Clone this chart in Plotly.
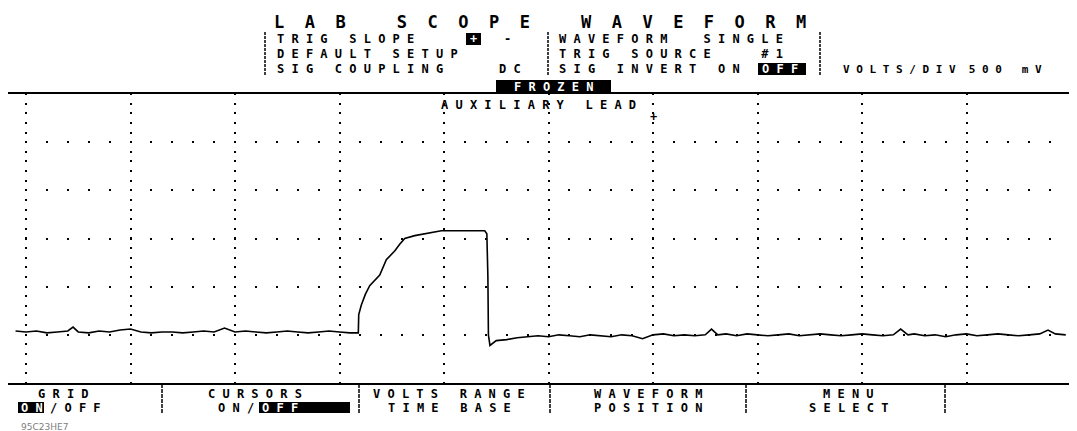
import plotly.graph_objects as go

W, H = 1077, 431
PLOT_TOP, PLOT_BOTTOM = 86, 375   # pixel rows of the screen frame

# ---- waveform data (time in divisions, volts; 500 mV/div) ----
pre_t = [-0.10, 0.00, 0.10, 0.20, 0.30, 0.40, 0.45, 0.50, 0.60, 0.70, 0.80, 0.90,
         1.00, 1.10, 1.20, 1.30, 1.40, 1.50, 1.60, 1.70, 1.80, 1.90, 2.00, 2.10,
         2.20, 2.30, 2.40, 2.50, 2.60, 2.70, 2.80, 2.90, 3.00, 3.10, 3.18]
pre_v = [0.04, 0.03, 0.04, 0.02, 0.03, 0.04, 0.08, 0.03, 0.02, 0.04, 0.03, 0.05,
         0.06, 0.03, 0.02, 0.03, 0.03, 0.02, 0.03, 0.04, 0.03, 0.07, 0.03, 0.04,
         0.03, 0.02, 0.03, 0.04, 0.03, 0.02, 0.03, 0.04, 0.03, 0.02, 0.02]

pulse_t = [3.184, 3.209, 3.247, 3.289, 3.337, 3.385, 3.448, 3.528, 3.576, 3.624,
           3.72, 3.815, 3.974, 4.15, 4.39, 4.41, 4.42, 4.425, 4.44]
pulse_v = [0.21, 0.31, 0.42, 0.51, 0.57, 0.62, 0.78, 0.87, 0.94, 1.00,
           1.03, 1.05, 1.08, 1.08, 1.08, 1.05, 0.60, 0.00, -0.11]

post_t = [4.50, 4.60, 4.70, 4.80, 4.90, 5.00, 5.10, 5.20, 5.30, 5.40, 5.50, 5.60,
          5.70, 5.80, 5.90, 6.00, 6.10, 6.20, 6.30, 6.40, 6.50, 6.56, 6.62, 6.70,
          6.80, 6.90, 7.00, 7.10, 7.20, 7.30, 7.40, 7.50, 7.60, 7.70, 7.80, 7.90,
          8.00, 8.10, 8.20, 8.30, 8.37, 8.44, 8.50, 8.60, 8.70, 8.80, 8.90, 9.00,
          9.10, 9.20, 9.30, 9.40, 9.50, 9.60, 9.70, 9.78, 9.85, 9.95]
post_v = [-0.06, -0.05, -0.03, -0.02, -0.01, -0.02, 0.00, -0.01, -0.02, 0.00, -0.01, -0.02,
          0.00, -0.01, -0.04, 0.00, 0.01, -0.01, 0.00, -0.01, 0.00, 0.06, 0.00, 0.01,
          -0.01, 0.01, 0.00, -0.01, 0.00, 0.01, -0.01, 0.00, 0.01, 0.00, -0.01, 0.00,
          0.01, 0.00, -0.01, 0.00, 0.06, 0.00, 0.01, -0.01, 0.00, -0.02, 0.00, 0.01,
          -0.01, 0.00, 0.01, 0.00, -0.01, 0.00, 0.01, 0.05, 0.01, 0.00]

# ---- screen texts ----
title_text = "LAB SCOPE WAVEFORM"
left_menu = ["TRIG SLOPE", "DEFAULT SETUP", "SIG COUPLING"]
right_menu = ["WAVEFORM  SINGLE", "TRIG SOURCE   #1", "SIG INVERT ON"]
volts_label, volts_value, volts_unit = "VOLTS/DIV", "500", "mV"
channel_label = "AUXILIARY LEAD"
soft_keys_top = ["GRID", "CURSORS", "VOLTS RANGE", "WAVEFORM", "MENU"]
soft_keys_bottom = ["", "", "TIME BASE", "POSITION", "SELECT"]
stamp = "95C23HE7"

MONO = "DejaVu Sans Mono"
X0_PX, DIV_PX = 18.0, 104.5
CELL = 14.45


def px_x(x):
    return x / W


def px_y(y):
    return (PLOT_BOTTOM - y) / (PLOT_BOTTOM - PLOT_TOP)


def sp(s, n=1):
    return (" " * n).join(s)


fig = go.Figure()
fig.add_trace(go.Scatter(
    x=pre_t + pulse_t + post_t, y=pre_v + pulse_v + post_v,
    mode="lines", line=dict(color="black", width=1.6),
    hoverinfo="skip", showlegend=False))

ann = []
shapes = []


def text(t, x, y, size=12, color="black", xanchor="left", bold=True,
         family=MONO):
    ann.append(dict(text=t, x=px_x(x), y=px_y(y), xref="paper", yref="paper",
                    xanchor=xanchor, yanchor="middle", showarrow=False,
                    font=dict(family=family, size=size, color=color,
                              weight="bold" if bold else "normal"),
                    borderpad=0))


def block(x0, x1, y0, y1):
    shapes.append(dict(type="rect", xref="paper", yref="paper", layer="above",
                       x0=px_x(x0), x1=px_x(x1), y0=px_y(y1), y1=px_y(y0),
                       fillcolor="black", line=dict(width=0)))


# title
text(sp(title_text, 2), 265, 14, size=17)
# left header box
text(sp(left_menu[0]), 268, 31)
block(458, 473, 25, 37)
text("+", 465.5, 31, color="white", xanchor="center")
text("-", 495, 31)
text(sp(left_menu[1]), 268, 46)
text(sp(left_menu[2]), 268, 60.5)
text(sp("DC"), 490, 60.5)
# right header box
text(sp(right_menu[0]), 550, 31)
text(sp(right_menu[1]), 550, 46)
text(sp(right_menu[2]), 550, 60.5)
block(750, 798, 55, 67)
text(sp("OFF"), 753, 60.5, color="white")
text(sp(volts_label) + "  " + sp(volts_value) + "   " + sp(volts_unit),
     834, 61, size=11)
# frozen flag
block(488, 603, 72, 86)
text(sp("FROZEN"), 545.5, 79, color="white", xanchor="center")
# channel label and trigger marker
text(sp(channel_label), 432, 97)
text("+", 645, 109, xanchor="center")

# soft keys
key_centers = [55, 247, 441, 640, 840]
for lab, cx in zip(soft_keys_top, key_centers):
    text(sp(lab), cx, 386, xanchor="center")
for lab, cx in zip(soft_keys_bottom, key_centers):
    if lab:
        text(sp(lab), cx, 399.5, xanchor="center")
block(10, 36, 394, 405)
text(sp("ON"), 12, 399.5, color="white")
text(sp("/OFF"), 12 + 2 * CELL, 399.5)
text(sp("ON/"), 209, 399.5)
block(251, 342, 394, 405)
text(sp("OFF"), 253, 399.5, color="white")
# stamp
text(stamp, 12, 419, size=9, color="#808080", family="DejaVu Sans", bold=False)

for x in (257, 540, 812):
    shapes.append(dict(type="line", xref="paper", yref="paper",
                       x0=px_x(x), x1=px_x(x), y0=px_y(24), y1=px_y(68),
                       line=dict(color="black", width=1.5, dash="3px,1px")))
for x in (154, 351, 542, 738, 937):
    shapes.append(dict(type="line", xref="paper", yref="paper",
                       x0=px_x(x), x1=px_x(x), y0=px_y(376), y1=px_y(406),
                       line=dict(color="black", width=1.5, dash="4px,1px")))

minor_y = (PLOT_BOTTOM - PLOT_TOP) / 30.0
minor_x = DIV_PX / 5.0
g1 = (X0_PX - 1) % minor_x
g2 = minor_x - 2 - g1
fig.update_layout(
    width=W, height=H,
    margin=dict(l=0, r=0, t=PLOT_TOP, b=H - PLOT_BOTTOM, pad=0),
    paper_bgcolor="white", plot_bgcolor="white",
    xaxis=dict(range=[(0 - X0_PX) / DIV_PX, (W - X0_PX) / DIV_PX],
               tick0=0, dtick=1, showticklabels=False, ticks="",
               showgrid=True, gridcolor="black", gridwidth=2,
               griddash="1px,%.2fpx,1px,0px" % (minor_y - 2),
               zeroline=False, showline=True, mirror=True,
               linecolor="black", linewidth=2),
    yaxis=dict(range=[-0.5, 2.5], tick0=0, dtick=0.5,
               showticklabels=False, ticks="",
               showgrid=True, gridcolor="black", gridwidth=2,
               griddash="0px,%.2fpx,2px,%.2fpx" % (g1, g2),
               zeroline=False, showline=False),
    annotations=ann, shapes=shapes, showlegend=False,
)

fig.write_html("out.html")
